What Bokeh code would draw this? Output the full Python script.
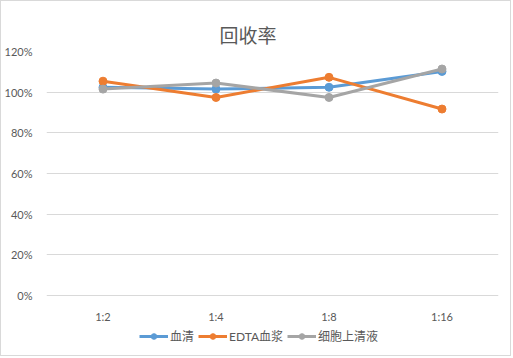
from bokeh.plotting import figure
from bokeh.models import (FactorRange, Range1d, FixedTicker, PrintfTickFormatter,
                          Legend, LegendItem, Title)
from bokeh.embed import file_html
from bokeh.resources import INLINE

categories = ["1:2", "1:4", "1:8", "1:16"]
serum = [102.4, 101.5, 102.4, 110.2]
edta_plasma = [105.4, 97.4, 107.3, 91.7]
supernatant = [101.5, 104.5, 97.4, 111.4]
series_names = ["血清", "EDTA血浆", "细胞上清液"]
y_ticks = [0, 20, 40, 60, 80, 100, 120]

colors = ["#5B9BD5", "#ED7D31", "#A5A5A5"]
num_font = "Lato, 'Noto Sans CJK SC'"
cjk_font = "Lato, 'Noto Sans CJK SC'"

W, H = 511, 356
B_TOP, B_BOTTOM = 50, 1
# 0..120 must span 244 px of the frame
y_min = 120 - 120 * (H - B_TOP - B_BOTTOM) / 244

p = figure(width=W, height=H, output_backend="svg", toolbar_location=None,
           x_range=FactorRange(factors=categories), y_range=Range1d(y_min, 120),
           min_border_left=44, min_border_right=14, min_border_top=B_TOP, min_border_bottom=B_BOTTOM)
p.styles = {"border": "1px solid #D9D9D9"}
p.outline_line_color = None
p.background_fill_color = "white"
p.border_fill_color = "white"

p.title = Title(text="回收率", align="left", text_font=cjk_font, text_font_size="19px",
                text_color="#595959", text_font_style="normal", offset=173, standoff=10)

renderers = []
for vals, c in zip([serum, edta_plasma, supernatant], colors):
    l = p.line(categories, vals, line_color=c, line_width=3)
    s = p.scatter(categories, vals, size=8, fill_color=c, line_color=c)
    renderers.append([l, s])

p.xgrid.visible = False
p.ygrid.grid_line_color = "#D9D9D9"
p.ygrid.grid_line_width = 1
p.ygrid.ticker = FixedTicker(ticks=y_ticks)

p.yaxis.ticker = FixedTicker(ticks=y_ticks)
p.yaxis.formatter = PrintfTickFormatter(format="%d%%")
p.xaxis.fixed_location = 0
for ax in [p.xaxis[0], p.yaxis[0]]:
    ax.axis_line_color = None
    ax.major_tick_line_color = None
    ax.minor_tick_line_color = None
    ax.major_label_text_color = "#595959"
    ax.major_label_text_font = num_font
    ax.major_label_text_font_size = "11px"
p.yaxis.major_label_standoff = 8
p.xaxis.major_label_standoff = 8

legend = Legend(items=[LegendItem(label=n, renderers=r) for n, r in zip(series_names, renderers)],
                orientation="horizontal", location=(93, 12), border_line_color=None,
                background_fill_alpha=0, label_text_font=cjk_font, label_text_font_size="12px",
                label_text_color="#595959", glyph_width=29, glyph_height=14, label_height=14,
                label_standoff=2, spacing=4, padding=0, margin=0)
p.add_layout(legend, "center")

open("out.html", "w").write(file_html(p, INLINE))
